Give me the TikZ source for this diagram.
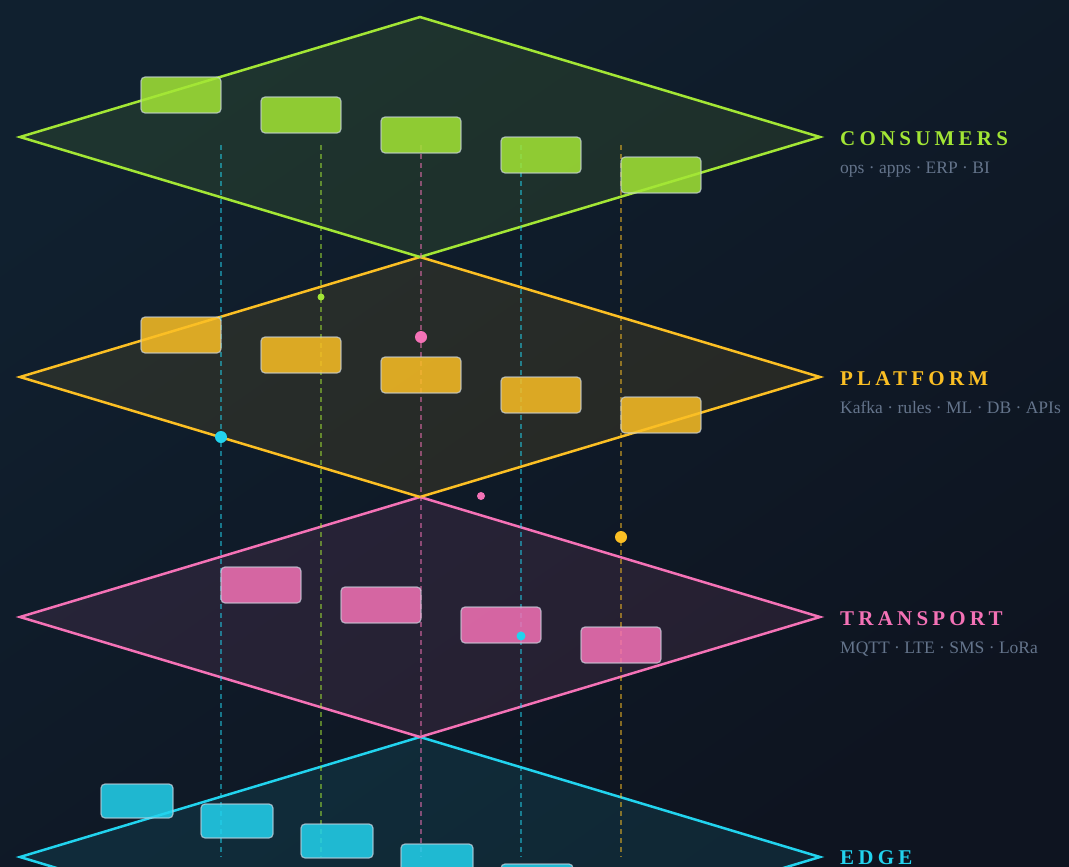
\documentclass[tikz,border=0pt]{standalone}
\usepackage{fontspec}
\setmainfont{Liberation Serif}
\newfontfamily\layerfont[LetterSpace=20]{Liberation Serif}

\definecolor{limec}{HTML}{A3E635}
\definecolor{amberc}{HTML}{FBBF24}
\definecolor{pinkc}{HTML}{F472B6}
\definecolor{cyanc}{HTML}{22D3EE}
\definecolor{chipedge}{HTML}{CBD5E1}
\definecolor{subgray}{HTML}{64748B}
\definecolor{bgtop}{HTML}{10202F}
\definecolor{bgbottom}{HTML}{0E1420}

\tikzset{
  layer/.style={line width=2.5pt, line join=miter, fill opacity=0.1},
  chip/.style={rounded corners=4pt, draw=chipedge, draw opacity=0.7, line width=1.2pt,
    fill opacity=0.85, minimum width=80pt, minimum height=36pt, inner sep=0pt},
  edgechip/.style={chip, minimum width=72pt, minimum height=34pt},
  probe/.style={dash pattern=on 5pt off 4pt, line width=1.7pt, draw opacity=0.5},
  blip/.style={circle, inner sep=0pt, draw=none},
  layertitle/.style={anchor=base west, inner sep=0pt, font=\layerfont\bfseries\fontsize{21}{25}\selectfont},
  layersub/.style={anchor=base west, inner sep=0pt, text=subgray, font=\fontsize{17.5}{21}\selectfont}
}

\begin{document}
\begin{tikzpicture}[x=1pt, y=-1pt]
  % background
  \useasboundingbox (0,0) rectangle (1069,867);
  \shade[top color=bgtop, bottom color=bgbottom, shading angle=35] (0,0) rectangle (1069,867);

  % layer planes
  \filldraw[layer, draw=cyanc, fill=cyanc] (20,857) -- (420,737) -- (820,857) -- (420,977) -- cycle;
  \filldraw[layer, draw=pinkc, fill=pinkc] (20,617) -- (420,497) -- (820,617) -- (420,737) -- cycle;
  \filldraw[layer, draw=amberc, fill=amberc] (20,377) -- (420,257) -- (820,377) -- (420,497) -- cycle;
  \filldraw[layer, draw=limec, fill=limec] (20,137) -- (420,17) -- (820,137) -- (420,257) -- cycle;

  % vertical probes
  \coordinate (p1t) at (221,145); \coordinate (p1b) at (221,857);
  \coordinate (p2t) at (321,145); \coordinate (p2b) at (321,857);
  \coordinate (p3t) at (421,145); \coordinate (p3b) at (421,857);
  \coordinate (p4t) at (521,145); \coordinate (p4b) at (521,857);
  \coordinate (p5t) at (621,145); \coordinate (p5b) at (621,857);
  \draw[probe, cyanc] (p1t) -- (p1b);
  \draw[probe, limec] (p2t) -- (p2b);
  \draw[probe, pinkc] (p3t) -- (p3b);
  \draw[probe, cyanc] (p4t) -- (p4b);
  \draw[probe, amberc] (p5t) -- (p5b);

  % consumers
  \node[chip, fill=limec] (c1) at (181,95) {};
  \node[chip, fill=limec] (c2) at (301,115) {};
  \node[chip, fill=limec] (c3) at (421,135) {};
  \node[chip, fill=limec] (c4) at (541,155) {};
  \node[chip, fill=limec] (c5) at (661,175) {};

  % platform
  \node[chip, fill=amberc] (pl1) at (181,335) {};
  \node[chip, fill=amberc] (pl2) at (301,355) {};
  \node[chip, fill=amberc] (pl3) at (421,375) {};
  \node[chip, fill=amberc] (pl4) at (541,395) {};
  \node[chip, fill=amberc] (pl5) at (661,415) {};

  % transport
  \node[chip, fill=pinkc] (t1) at (261,585) {};
  \node[chip, fill=pinkc] (t2) at (381,605) {};
  \node[chip, fill=pinkc] (t3) at (501,625) {};
  \node[chip, fill=pinkc] (t4) at (621,645) {};

  % edge
  \node[edgechip, fill=cyanc] (e1) at (137,801) {};
  \node[edgechip, fill=cyanc] (e2) at (237,821) {};
  \node[edgechip, fill=cyanc] (e3) at (337,841) {};
  \node[edgechip, fill=cyanc] (e4) at (437,861) {};
  \node[edgechip, fill=cyanc] (e5) at (537,881) {};

  % packets
  \node[blip, fill=limec, minimum size=7pt] (k1) at (321,297) {};
  \node[blip, fill=pinkc, minimum size=12pt] (k2) at (421,337) {};
  \node[blip, fill=cyanc, minimum size=12pt] (k3) at (221,437) {};
  \node[blip, fill=pinkc, minimum size=8pt] (k4) at (481,496) {};
  \node[blip, fill=amberc, minimum size=12pt] (k5) at (621,537) {};
  \node[blip, fill=cyanc, minimum size=9pt] (k6) at (521,636) {};

  % labels
  \node[layertitle, text=limec] (lc) at (840,145) {CONSUMERS};
  \node[layersub] (sc) at (840,173) {ops · apps · ERP · BI};
  \node[layertitle, text=amberc] (lp) at (840,385) {PLATFORM};
  \node[layersub] (sp) at (840,413) {Kafka · rules · ML · DB · APIs};
  \node[layertitle, text=pinkc] (lt) at (840,625) {TRANSPORT};
  \node[layersub] (st) at (840,653) {MQTT · LTE · SMS · LoRa};
  \node[layertitle, text=cyanc] (le) at (840,864) {EDGE};
\end{tikzpicture}
\end{document}
